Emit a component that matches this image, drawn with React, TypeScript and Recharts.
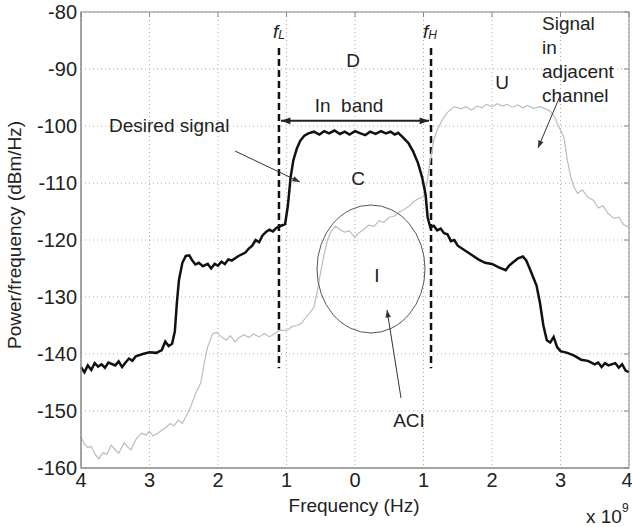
import { CartesianGrid, Line, LineChart, ReferenceLine, XAxis, YAxis } from "recharts";

// desired signal (black), frequency in GHz, power in dBm/Hz
const desiredFreq = [
  -4.0, -3.95, -3.9, -3.85, -3.8, -3.75, -3.7, -3.65, -3.6, -3.5, -3.45, -3.4, -3.35, -3.3, -3.25, -3.2,
  -3.1, -3.0, -2.9, -2.82, -2.77, -2.72, -2.67, -2.63, -2.6, -2.57, -2.52, -2.47, -2.42, -2.38, -2.33,
  -2.28, -2.22, -2.15, -2.1, -2.05, -2.0, -1.95, -1.9, -1.85, -1.8, -1.7, -1.6, -1.55, -1.5, -1.45, -1.4,
  -1.35, -1.3, -1.25, -1.2, -1.15, -1.08, -1.02, -0.98, -0.94, -0.9, -0.85, -0.8, -0.74, -0.68, -0.6,
  -0.52, -0.45, -0.38, -0.3, -0.22, -0.15, -0.08, 0.0, 0.08, 0.15, 0.22, 0.3, 0.38, 0.45, 0.52, 0.58,
  0.63, 0.7, 0.78, 0.85, 0.92, 0.98, 1.03, 1.06, 1.1, 1.15, 1.2, 1.25, 1.3, 1.35, 1.4, 1.45, 1.5, 1.6,
  1.7, 1.8, 1.9, 2.0, 2.1, 2.2, 2.25, 2.3, 2.38, 2.45, 2.5, 2.55, 2.6, 2.65, 2.7, 2.75, 2.8, 2.85, 2.9,
  2.95, 3.0, 3.1, 3.2, 3.3, 3.4, 3.5, 3.55, 3.6, 3.65, 3.7, 3.8, 3.85, 3.9, 3.95, 4.0,
];
const desiredPower = [
  -142.3, -143.2, -142.0, -142.8, -141.6, -142.2, -141.8, -142.4, -141.5, -142.0, -141.3, -142.3, -141.5,
  -140.8, -141.2, -140.4, -140.0, -139.7, -139.8, -139.3, -137.8, -138.6, -138.2, -136, -131, -127, -124,
  -122.8, -122.7, -123.5, -124.3, -124.0, -124.6, -124.2, -125.0, -124.2, -124.5, -123.8, -124.2, -123.4,
  -123.6, -122.8, -122.2, -121.5, -121.0, -120.0, -120.4, -119.2, -118.6, -118.2, -118.5, -117.9, -117.5,
  -117.2, -114, -109, -106, -104, -102.6, -101.7, -101.3, -101.0, -101.5, -100.9, -101.3, -100.8, -101.4,
  -101.0, -101.5, -100.9, -101.3, -101.6, -101.0, -101.4, -100.9, -101.3, -101.0, -101.5, -101.2, -102,
  -103, -104.5, -106.5, -109, -112, -116, -117.8, -117.5, -118.3, -118.0, -118.8, -119.0, -120.2, -120.0,
  -121.0, -121.8, -122.6, -123.4, -124.0, -124.2, -124.8, -125.3, -124.5, -124.0, -123.2, -122.9, -123.6,
  -125, -126.5, -128, -131, -135, -137.6, -138.0, -137.0, -138.8, -139.5, -139.8, -140.3, -141.0, -141.2,
  -141.8, -141.5, -142.3, -141.6, -142.0, -141.6, -142.4, -141.8, -142.9, -143.2,
];

// signal in adjacent channel (grey)
const adjacentFreq = [
  -4.0, -3.95, -3.9, -3.85, -3.8, -3.74, -3.68, -3.62, -3.56, -3.5, -3.45, -3.37, -3.32, -3.27, -3.2,
  -3.12, -3.05, -3.0, -2.95, -2.88, -2.8, -2.75, -2.7, -2.64, -2.58, -2.52, -2.47, -2.4, -2.33, -2.25,
  -2.2, -2.15, -2.08, -2.02, -1.95, -1.88, -1.82, -1.75, -1.7, -1.62, -1.55, -1.48, -1.4, -1.32, -1.25,
  -1.18, -1.1, -1.0, -0.92, -0.85, -0.78, -0.72, -0.66, -0.6, -0.55, -0.5, -0.45, -0.4, -0.35, -0.28,
  -0.22, -0.15, -0.08, 0.0, 0.05, 0.12, 0.2, 0.28, 0.35, 0.42, 0.5, 0.58, 0.65, 0.72, 0.8, 0.86, 0.92,
  1.0, 1.05, 1.1, 1.15, 1.2, 1.28, 1.35, 1.45, 1.55, 1.62, 1.7, 1.78, 1.85, 1.92, 2.0, 2.08, 2.15, 2.22,
  2.3, 2.38, 2.45, 2.52, 2.6, 2.7, 2.78, 2.86, 2.92, 2.98, 3.05, 3.1, 3.15, 3.2, 3.25, 3.32, 3.4, 3.48,
  3.55, 3.62, 3.7, 3.78, 3.85, 3.92, 4.0,
];
const adjacentPower = [
  -154.6, -155.8, -156.4, -156.2, -157.5, -158.4, -157.3, -157.6, -156.0, -156.8, -157.4, -155.6, -156.3,
  -156.8, -155.0, -153.9, -154.2, -153.6, -154.4, -153.9, -153.2, -152.8, -152.2, -152.6, -151.6, -152.2,
  -151.0, -149.3, -147, -145, -141.5, -138.7, -136.5, -136.2, -137.0, -137.6, -136.8, -137.9, -137.2,
  -136.6, -137.1, -136.5, -137.0, -136.4, -137.0, -136.5, -135.8, -135.9, -135.2, -135.0, -134.6, -133.6,
  -132.8, -131.8, -129, -125.5, -122.5, -120, -118.5, -117.6, -118.2, -118.6, -118.4, -119.6, -118.8,
  -118.2, -117.4, -117.6, -116.6, -116.9, -116.0, -115.8, -115.1, -114.6, -114.0, -113.2, -112.8, -112.4,
  -110, -106, -102.5, -100.7, -98.8, -97.6, -96.6, -97.0, -96.6, -97.2, -96.5, -96.8, -96.2, -96.6, -96.1,
  -96.5, -96.2, -96.7, -96.3, -96.8, -96.4, -96.9, -96.6, -97.0, -97.5, -98.6, -100.2, -102, -106, -109,
  -110.8, -111.8, -111.2, -112.5, -113.0, -114.4, -114.0, -115.4, -116.2, -116.0, -117.3, -117.8,
];

const xTicks = [-4, -3, -2, -1, 0, 1, 2, 3, 4];
const yTicks = [-160, -150, -140, -130, -120, -110, -100, -90, -80];
const bandEdges = [-1.11, 1.11];

const desired = desiredFreq.map((f, i) => ({ f, p: desiredPower[i] }));
const adjacent = adjacentFreq.map((f, i) => ({ f, p: adjacentPower[i] }));

const W = 632;
const H = 527;
const FONT = "'Liberation Sans', Arial, sans-serif";
const box = { left: 81, top: 12, right: 629, bottom: 468 };
const px = (f: number) => box.left + ((f + 4) / 8) * (box.right - box.left);
const py = (v: number) => box.top + ((-80 - v) / 80) * (box.bottom - box.top);

function Arrow({ x1, y1, x2, y2, w = 1, color = "#333", head = 8 }: any) {
  const a = Math.atan2(y2 - y1, x2 - x1);
  const p1 = [x2 - head * Math.cos(a - 0.35), y2 - head * Math.sin(a - 0.35)];
  const p2 = [x2 - head * Math.cos(a + 0.35), y2 - head * Math.sin(a + 0.35)];
  return (
    <g>
      <line x1={x1} y1={y1} x2={x2} y2={y2} stroke={color} strokeWidth={w} />
      <polygon points={`${x2},${y2} ${p1[0]},${p1[1]} ${p2[0]},${p2[1]}`} fill={color} />
    </g>
  );
}

function Overlay() {
  const yb = py(-99.1);
  return (
    <svg
      width={W}
      height={H}
      style={{ position: "absolute", left: 0, top: 0, pointerEvents: "none" }}
      fontFamily={FONT}
      fontSize={19}
      fill="#222"
    >
      <rect x={box.left} y={box.top} width={box.right - box.left} height={box.bottom - box.top} fill="none" stroke="#888" />
      {xTicks.map((t) => (
        <line key={"tx" + t} x1={px(t)} x2={px(t)} y1={box.top} y2={box.top + 5} stroke="#888" />
      ))}
      {yTicks.map((t) => (
        <line key={"ty" + t} x1={box.right - 5} x2={box.right} y1={py(t)} y2={py(t)} stroke="#888" />
      ))}

      <text x={273} y={38} fontStyle="italic" fontSize={19}>
        f<tspan fontSize={12} dy={1}>L</tspan>
      </text>
      <text x={423} y={38} fontStyle="italic" fontSize={19}>
        f<tspan fontSize={12} dy={1}>H</tspan>
      </text>

      <text x={353} y={67} textAnchor="middle">D</text>
      <text x={349} y={112} textAnchor="middle">{"In\u00a0\u00a0band"}</text>
      <Arrow x1={(px(-1.11) + px(1.11)) / 2} y1={yb} x2={px(1.11) - 2} y2={yb} w={2} color="#222" head={10} />
      <Arrow x1={(px(-1.11) + px(1.11)) / 2} y1={yb} x2={px(-1.11) + 2} y2={yb} w={2} color="#222" head={10} />

      <text x={109} y={132}>Desired signal</text>
      <Arrow x1={235} y1={151} x2={300} y2={182} />
      <text x={358} y={185} textAnchor="middle">C</text>
      <text x={502} y={89} textAnchor="middle">U</text>

      <text x={542} y={30}>Signal</text>
      <text x={542} y={54}>in</text>
      <text x={542} y={78}>adjacent</text>
      <text x={542} y={102}>channel</text>
      <Arrow x1={560} y1={96} x2={538} y2={148} />

      <ellipse cx={371} cy={269} rx={54} ry={64} fill="none" stroke="#555" strokeWidth={1} />
      <text x={377} y={282} textAnchor="middle">I</text>
      <text x={409} y={427} textAnchor="middle">ACI</text>
      <Arrow x1={401} y1={398} x2={387} y2={310} />

      <text x={354} y={512} textAnchor="middle">Frequency (Hz)</text>
      <text x={586} y={523}>
        x 10<tspan fontSize={12} dy={-11}>9</tspan>
      </text>
      <text x={21} y={235} textAnchor="middle" transform="rotate(-90 21 235)">
        Power/frequency (dBm/Hz)
      </text>
    </svg>
  );
}

export default function App() {
  return (
    <div style={{ position: "absolute", left: 0, top: 0, width: W, height: H, background: "#fff" }}>
      <LineChart width={W} height={H} margin={{ top: 12, right: 3, bottom: 0, left: 0 }}>
        <CartesianGrid stroke="#aaa" strokeDasharray="1 3" />
        <XAxis
          type="number"
          dataKey="f"
          domain={[-4, 4]}
          ticks={xTicks}
          tickFormatter={(v: number) => String(Math.abs(v))}
          height={59}
          tickSize={0}
          tickMargin={5}
          stroke="#888"
          tick={{ fill: "#222", fontSize: 20, fontFamily: FONT }}
          allowDuplicatedCategory={false}
        />
        <YAxis
          type="number"
          domain={[-160, -80]}
          ticks={yTicks}
          width={81}
          tickSize={0}
          tickMargin={4}
          stroke="#888"
          tick={{ fill: "#222", fontSize: 20, fontFamily: FONT }}
        />
        {bandEdges.map((f) => (
          <ReferenceLine
            key={f}
            segment={[
              { x: f, y: -86.3 },
              { x: f, y: -142.5 },
            ]}
            stroke="#111"
            strokeWidth={2.5}
            strokeDasharray="7 4"
          />
        ))}
        <Line
          data={adjacent}
          dataKey="p"
          type="linear"
          stroke="#bdbdbd"
          strokeWidth={1.2}
          dot={false}
          isAnimationActive={false}
        />
        <Line
          data={desired}
          dataKey="p"
          type="linear"
          stroke="#111"
          strokeWidth={2.5}
          dot={false}
          isAnimationActive={false}
        />
      </LineChart>
      <Overlay />
    </div>
  );
}
